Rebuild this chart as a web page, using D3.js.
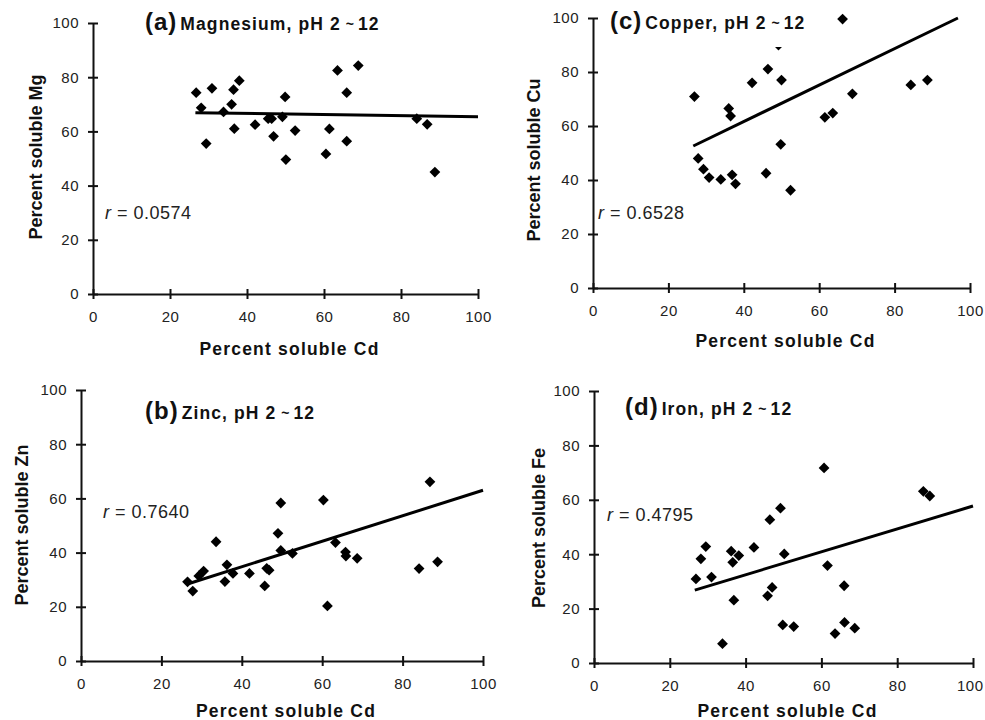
<!DOCTYPE html>
<html>
<head>
<meta charset="utf-8">
<script src="https://cdn.jsdelivr.net/npm/d3@7"></script>
<style>
  body { margin: 0; background: #fff; }
  svg { font-family: "Liberation Sans", Arial, Helvetica, sans-serif; }
  .tick text { font-size: 15px; fill: #222; letter-spacing: 0.5px; }
  .domain, .tick line { stroke: #111; stroke-width: 2px; }
</style>
</head>
<body>
<div id="chart"></div>
<script>
// Values: [percent soluble Cd, percent soluble metal]
const magnesium = [
  [26.8, 74.3], [28.1, 68.7], [29.4, 55.5], [30.9, 75.9], [33.9, 67.2],
  [36.0, 70.0], [36.5, 75.4], [36.7, 61.0], [38.0, 78.7], [42.1, 62.5],
  [45.5, 64.7], [46.4, 64.7], [46.9, 58.2], [49.2, 65.4], [49.9, 72.7],
  [50.1, 49.6], [52.5, 60.3], [60.5, 51.7], [61.4, 60.9], [63.5, 82.5],
  [65.9, 74.3], [65.9, 56.4], [68.9, 84.3], [84.1, 64.7], [86.8, 62.6],
  [88.8, 45.0]
];
const zinc = [
  [26.5, 29.2], [27.8, 25.8], [29.3, 31.4], [30.5, 33.2], [33.6, 44.0],
  [35.8, 29.3], [36.3, 35.5], [37.8, 32.3], [41.9, 32.3], [45.7, 27.7],
  [46.2, 34.2], [46.8, 33.5], [49.0, 47.1], [49.7, 58.3], [49.7, 40.8],
  [52.6, 39.7], [60.3, 59.4], [61.3, 20.3], [63.3, 43.7], [65.8, 40.2],
  [65.9, 38.7], [68.7, 37.9], [84.1, 34.1], [86.8, 66.1], [88.7, 36.6]
];
const copper = [
  [26.9, 70.9], [27.9, 48.0], [29.3, 44.0], [30.8, 40.9], [33.9, 40.2],
  [36.0, 66.5], [36.5, 63.7], [36.9, 41.9], [37.8, 38.6], [42.2, 76.0],
  [45.9, 42.5], [46.4, 81.1], [49.2, 90.0], [49.8, 53.2], [50.0, 77.0],
  [52.4, 36.2], [61.5, 63.2], [63.6, 64.8], [66.2, 99.6], [68.8, 71.9],
  [84.3, 75.2], [88.7, 77.0]
];
const iron = [
  [26.9, 30.9], [28.2, 38.3], [29.5, 42.8], [31.0, 31.6], [33.9, 7.1],
  [36.2, 41.1], [36.6, 37.0], [36.9, 23.1], [38.2, 39.5], [42.2, 42.5],
  [45.8, 24.7], [46.4, 52.7], [47.0, 27.8], [49.2, 56.9], [49.8, 14.0],
  [50.2, 40.1], [52.7, 13.4], [60.7, 71.7], [61.6, 35.8], [63.6, 10.8],
  [66.0, 28.4], [66.1, 14.9], [68.8, 12.8], [86.9, 63.1], [88.6, 61.4]
];
// regression lines (start and end)
const magnesiumFit = [[26.6, 66.9], [100, 65.4]];
const zincFit = [[26.7, 28.5], [100, 63.0]];
const copperFit = [[26.6, 52.6], [96.8, 100]];
const ironFit = [[26.6, 26.8], [100, 57.7]];

const rValues = ["0.0574", "0.7640", "0.6528", "0.4795"];
const tickValues = [0, 20, 40, 60, 80, 100];

const panels = [
  { key: "(a)", name: "Magnesium, pH 2", el: "Mg", data: magnesium, fit: magnesiumFit, r: rValues[0],
    x0: 93, x1: 478, y0: 294, y1: 23, titleX: 145, titleY: 30, rX: 105, rY: 219,
    yLabX: 36, yLabY: 157, xLabY: 349 },
  { key: "(b)", name: "Zinc, pH 2", el: "Zn", data: zinc, fit: zincFit, r: rValues[1],
    x0: 81, x1: 483, y0: 661, y1: 390, titleX: 145, titleY: 419, rX: 103, rY: 518,
    yLabX: 22, yLabY: 525, xLabY: 711 },
  { key: "(c)", name: "Copper, pH 2", el: "Cu", data: copper, fit: copperFit, r: rValues[2],
    x0: 593, x1: 970, y0: 288, y1: 18, titleX: 610, titleY: 29, rX: 598, rY: 219,
    yLabX: 534, yLabY: 160, xLabY: 341 },
  { key: "(d)", name: "Iron, pH 2", el: "Fe", data: iron, fit: ironFit, r: rValues[3],
    x0: 594, x1: 973, y0: 663, y1: 391, titleX: 625, titleY: 415, rX: 607, rY: 521,
    yLabX: 539, yLabY: 528, xLabY: 711 }
];

const width = 985, height = 720;
const svg = d3.select("#chart").append("svg")
  .attr("width", width)
  .attr("height", height);

const diamond = d3.symbol().type(d3.symbolSquare).size(58);

panels.forEach(p => {
  const x = d3.scaleLinear().domain([0, 100]).range([p.x0, p.x1]);
  const y = d3.scaleLinear().domain([0, 100]).range([p.y0, p.y1]);
  const g = svg.append("g");

  // y axis, ticks crossing the line
  const ya = g.append("g")
    .attr("transform", `translate(${p.x0},0)`)
    .call(d3.axisLeft(y).tickValues(tickValues).tickSize(10).tickSizeOuter(0).tickPadding(4));
  ya.selectAll(".tick line").attr("x1", 5).attr("x2", -5);

  const xa = g.append("g")
    .attr("transform", `translate(0,${p.y0})`)
    .call(d3.axisBottom(x).tickValues(tickValues).tickSize(10).tickSizeOuter(0).tickPadding(7));
  xa.selectAll(".tick line").attr("y1", -5).attr("y2", 5);
  // keep the last label inside the page
  xa.selectAll(".tick text")
    .filter(d => d === 100 && p.x1 + 14 > width)
    .attr("text-anchor", "end")
    .attr("x", width - 2 - p.x1);

  // points
  g.selectAll("path.pt")
    .data(p.data)
    .enter()
    .append("path")
    .attr("class", "pt")
    .attr("d", diamond)
    .attr("transform", d => `translate(${x(d[0])},${y(d[1])}) rotate(45)`)
    .attr("fill", "#000");

  // regression line
  g.append("path")
    .datum(p.fit)
    .attr("d", d3.line().x(d => x(d[0])).y(d => y(d[1])))
    .attr("stroke", "#000")
    .attr("stroke-width", 3)
    .attr("fill", "none");

  // title (white box behind it hides what lies under)
  const bg = g.append("rect").attr("fill", "#fff");
  const t = g.append("text")
    .attr("x", p.titleX)
    .attr("y", p.titleY)
    .attr("font-weight", "bold")
    .attr("fill", "#111");
  t.append("tspan").attr("font-size", 24).attr("letter-spacing", 1).text(p.key);
  t.append("tspan").attr("font-size", 17.5).attr("letter-spacing", 1.1).attr("dx", 3).text(p.name);
  t.append("tspan").attr("font-size", 14).attr("dx", 5).attr("dy", -1).text("~");
  t.append("tspan").attr("font-size", 17.5).attr("letter-spacing", 1.1).attr("dx", 4).attr("dy", 1).text("12");
  const bb = t.node().getBBox();
  bg.attr("x", bb.x).attr("y", bb.y + 4).attr("width", bb.width).attr("height", p.titleY + 18 - bb.y - 4);

  // r value
  const rt = g.append("text")
    .attr("x", p.rX)
    .attr("y", p.rY)
    .attr("font-size", 18)
    .attr("letter-spacing", 0.5)
    .attr("fill", "#222");
  rt.append("tspan").attr("font-style", "italic").text("r");
  rt.append("tspan").text(" = " + p.r);

  // axis titles
  g.append("text")
    .attr("x", (p.x0 + p.x1) / 2 + 4)
    .attr("y", p.xLabY + 6)
    .attr("text-anchor", "middle")
    .attr("font-size", 17.5)
    .attr("letter-spacing", 1.2)
    .attr("font-weight", "bold")
    .attr("fill", "#111")
    .text("Percent soluble Cd");

  g.append("text")
    .attr("transform", `translate(${p.yLabX + 6},${p.yLabY}) rotate(-90)`)
    .attr("text-anchor", "middle")
    .attr("font-size", 18)
    .attr("font-weight", "bold")
    .attr("fill", "#111")
    .text("Percent soluble " + p.el);
});
</script>
</body>
</html>
